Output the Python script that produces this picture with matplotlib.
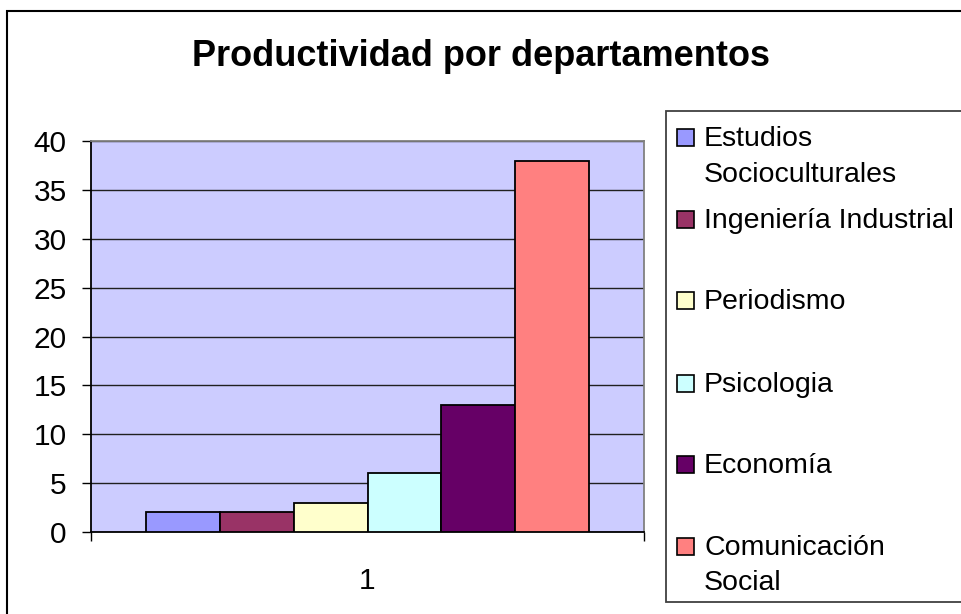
import matplotlib
matplotlib.use("Agg")
import matplotlib.pyplot as plt
import numpy as np
from matplotlib.patches import Rectangle

# data
departamentos = ["Estudios Socioculturales", "Ingeniería Industrial", "Periodismo",
                 "Psicologia", "Economía", "Comunicación Social"]
legend_labels = ["Estudios\nSocioculturales", "Ingeniería Industrial", "Periodismo",
                 "Psicologia", "Economía", "Comunicación\nSocial"]
valores = [2, 2, 3, 6, 13, 38]
colores = ["#9999FF", "#993366", "#FFFFCC", "#CCFFFF", "#660066", "#FF8080"]
categoria = ["1"]
y_ticks = [0, 5, 10, 15, 20, 25, 30, 35, 40]

W, H = 962, 614
FS = 20.5
plt.rcParams["font.family"] = ["Liberation Sans", "DejaVu Sans"]

fig = plt.figure(figsize=(W / 100, H / 100), dpi=100)


def fx(px):
    return px / W


def fy(py):
    return 1 - py / H


# outer chart border (right/bottom edges fall outside the picture)
fig.patches.append(Rectangle((fx(7), fy(H + 20)), fx(W + 20), fy(11.5) - fy(H + 20),
                             transform=fig.transFigure, fill=False,
                             edgecolor="black", lw=1.5))

# title
fig.text(0.5, fy(57), "Productividad por departamentos", ha="center", va="center",
         fontsize=26, fontweight="bold")

# plot area
ax = fig.add_axes([fx(91), fy(532), fx(644) - fx(91), fy(141) - fy(532)])
ax.set_facecolor("#CCCCFF")

n = len(valores)
width = 0.8 / n
for i, (v, c, name) in enumerate(zip(valores, colores, departamentos)):
    x = 1 + (i - (n - 1) / 2) * width
    ax.bar(x, v, width=width, color=c, edgecolor="black", lw=1.3, label=name, zorder=3)

ax.set_xlim(0.5, 1.5)
ax.set_ylim(0, 40)
ax.set_yticks(y_ticks)
ax.set_yticklabels([str(t) for t in y_ticks], fontsize=21.5)
ax.yaxis.grid(True, color="#202020", lw=1.0, zorder=1)
ax.set_axisbelow(True)
ax.tick_params(axis="y", direction="out", length=6.5, width=1, pad=11, color="black")

ax.set_xticks([1])
ax.set_xticklabels(categoria, fontsize=21.5)
ax.set_xticks([0.5, 1.5], minor=True)
ax.tick_params(axis="x", which="major", length=0, pad=25)
ax.tick_params(axis="x", which="minor", direction="out", length=6.5, width=1, color="black")

for s in ["left", "bottom"]:
    ax.spines[s].set_color("black")
    ax.spines[s].set_linewidth(1.3)
for s in ["top", "right"]:
    ax.spines[s].set_color("#808080")
    ax.spines[s].set_linewidth(1.3)

# legend box
fig.patches.append(Rectangle((fx(665.7), fy(602)), fx(W + 20) - fx(665.7), fy(110.7) - fy(602),
                             transform=fig.transFigure, facecolor="white",
                             edgecolor="#404040", lw=1.3, zorder=0))

baselines = [146, 227.7, 309.3, 391.7, 472.7, 555]
line_step = 35.5
for lab, c, b in zip(legend_labels, colores, baselines):
    fig.patches.append(Rectangle((fx(677), fy(b)), fx(17), fy(b - 17) - fy(b),
                                 transform=fig.transFigure, facecolor=c,
                                 edgecolor="black", lw=1.2, zorder=2))
    for k, line in enumerate(lab.split("\n")):
        fig.text(fx(704), fy(b + k * line_step), line, ha="left", va="baseline",
                 fontsize=FS)

fig.savefig("out.png", dpi=100)
